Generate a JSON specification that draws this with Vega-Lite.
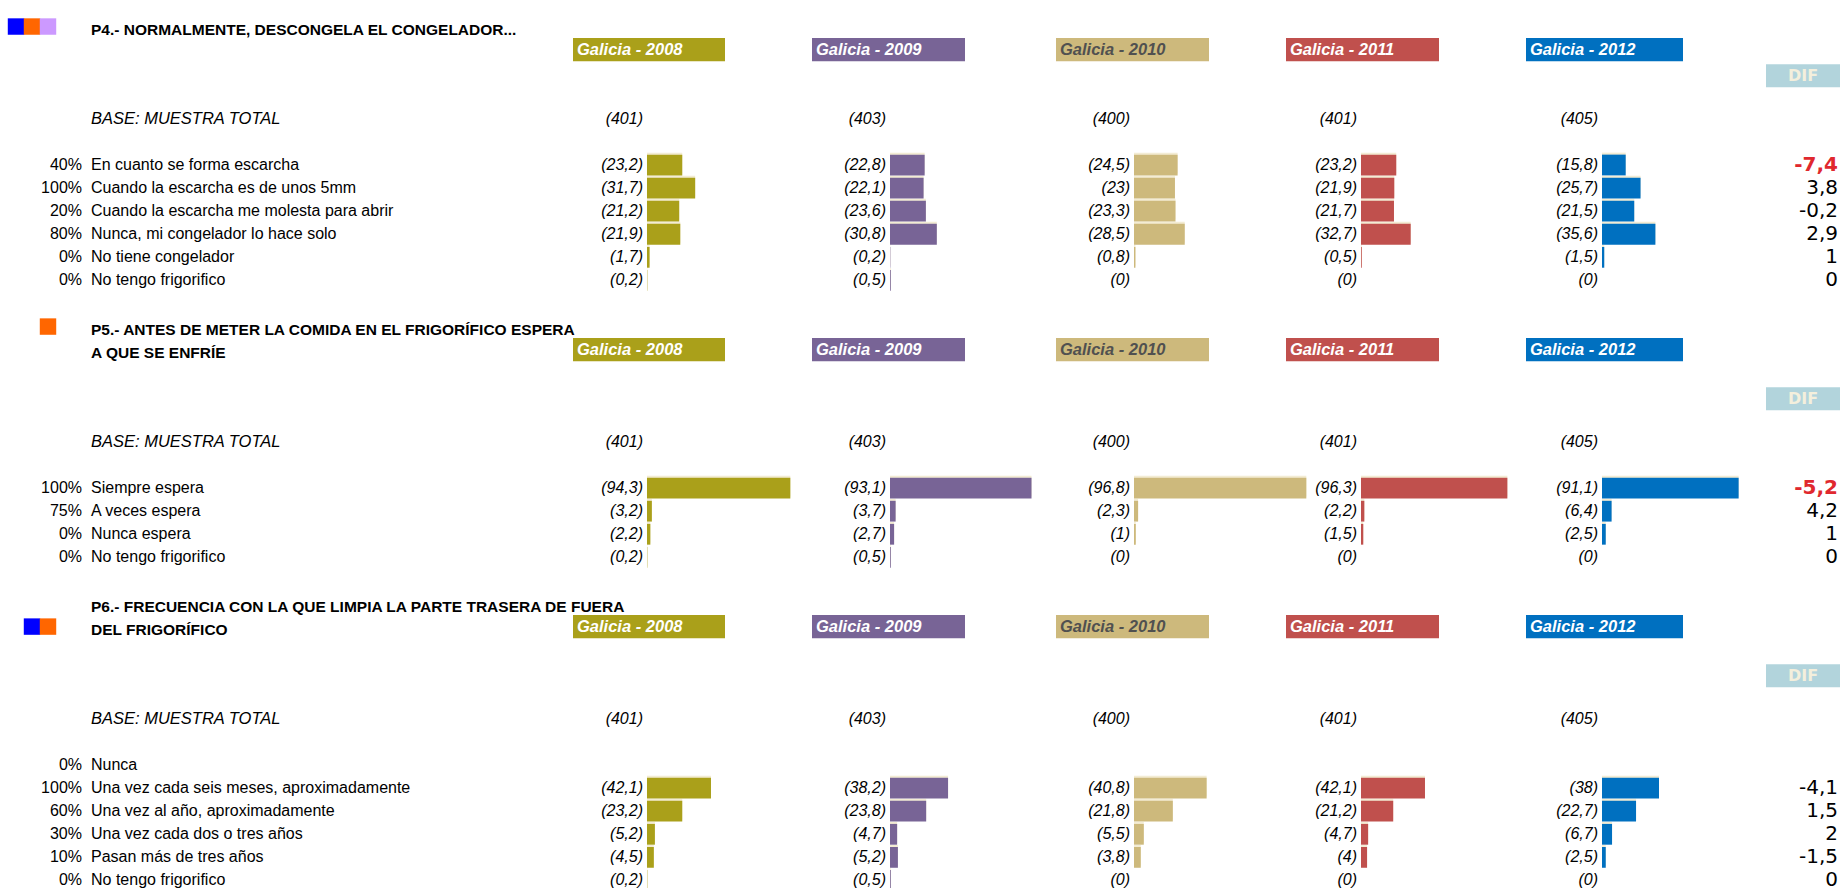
{
  "$schema": "https://vega.github.io/schema/vega-lite/v6.json",
  "padding": {"left": 0, "top": 15, "right": 0, "bottom": 0},
  "background": "white",
  "bounds": "flush",
  "spacing": 9,
  "config": {"view": {"stroke": null}, "font": "Liberation Sans", "text": {"color": "#000000"}},
  "datasets": {
    "sections": [
      {"sec": "P4", "h": "P4_h", "d": "P4_d"},
      {"sec": "P5", "h": "P5_h", "d": "P5_d"},
      {"sec": "P6", "h": "P6_h", "d": "P6_d"}
    ],
    "titles": [
      {"line": "P4_t", "text": "P4.- NORMALMENTE, DESCONGELA EL CONGELADOR..."},
      {"line": "P5_t", "text": "P5.- ANTES DE METER LA COMIDA EN EL FRIGORÍFICO ESPERA"},
      {"line": "P5_h", "text": "A QUE SE ENFRÍE"},
      {"line": "P6_t", "text": "P6.- FRECUENCIA CON LA QUE LIMPIA LA PARTE TRASERA DE FUERA"},
      {"line": "P6_h", "text": "DEL FRIGORÍFICO"}
    ],
    "icons": [
      {"line": "P4_t", "slot": "1", "c": "azul"},
      {"line": "P4_t", "slot": "2", "c": "naranja"},
      {"line": "P4_t", "slot": "3", "c": "lila"},
      {"line": "P5_t", "slot": "3", "c": "naranja"},
      {"line": "P6_h", "slot": "2", "c": "azul"},
      {"line": "P6_h", "slot": "3", "c": "naranja"}
    ],
    "bases": [
      {"line": "P4_b", "label": "BASE: MUESTRA TOTAL", "2008": 401, "2009": 403, "2010": 400, "2011": 401, "2012": 405},
      {"line": "P5_b", "label": "BASE: MUESTRA TOTAL", "2008": 401, "2009": 403, "2010": 400, "2011": 401, "2012": 405},
      {"line": "P6_b", "label": "BASE: MUESTRA TOTAL", "2008": 401, "2009": 403, "2010": 400, "2011": 401, "2012": 405}
    ],
    "items": [
      {"line": "P4_1", "pct": "40%", "label": "En cuanto se forma escarcha", "2008": 23.2, "2009": 22.8, "2010": 24.5, "2011": 23.2, "2012": 15.8, "dif": -7.4},
      {"line": "P4_2", "pct": "100%", "label": "Cuando la escarcha es de unos 5mm", "2008": 31.7, "2009": 22.1, "2010": 23, "2011": 21.9, "2012": 25.7, "dif": 3.8},
      {"line": "P4_3", "pct": "20%", "label": "Cuando la escarcha me molesta para abrir", "2008": 21.2, "2009": 23.6, "2010": 23.3, "2011": 21.7, "2012": 21.5, "dif": -0.2},
      {"line": "P4_4", "pct": "80%", "label": "Nunca, mi congelador lo hace solo", "2008": 21.9, "2009": 30.8, "2010": 28.5, "2011": 32.7, "2012": 35.6, "dif": 2.9},
      {"line": "P4_5", "pct": "0%", "label": "No tiene congelador", "2008": 1.7, "2009": 0.2, "2010": 0.8, "2011": 0.5, "2012": 1.5, "dif": 1},
      {"line": "P4_6", "pct": "0%", "label": "No tengo frigorifico", "2008": 0.2, "2009": 0.5, "2010": 0, "2011": 0, "2012": 0, "dif": 0},
      {"line": "P5_1", "pct": "100%", "label": "Siempre espera", "2008": 94.3, "2009": 93.1, "2010": 96.8, "2011": 96.3, "2012": 91.1, "dif": -5.2},
      {"line": "P5_2", "pct": "75%", "label": "A veces espera", "2008": 3.2, "2009": 3.7, "2010": 2.3, "2011": 2.2, "2012": 6.4, "dif": 4.2},
      {"line": "P5_3", "pct": "0%", "label": "Nunca espera", "2008": 2.2, "2009": 2.7, "2010": 1, "2011": 1.5, "2012": 2.5, "dif": 1},
      {"line": "P5_4", "pct": "0%", "label": "No tengo frigorifico", "2008": 0.2, "2009": 0.5, "2010": 0, "2011": 0, "2012": 0, "dif": 0},
      {"line": "P6_0", "pct": "0%", "label": "Nunca", "2008": null, "2009": null, "2010": null, "2011": null, "2012": null, "dif": null},
      {"line": "P6_1", "pct": "100%", "label": "Una vez cada seis meses, aproximadamente", "2008": 42.1, "2009": 38.2, "2010": 40.8, "2011": 42.1, "2012": 38, "dif": -4.1},
      {"line": "P6_2", "pct": "60%", "label": "Una vez al año, aproximadamente", "2008": 23.2, "2009": 23.8, "2010": 21.8, "2011": 21.2, "2012": 22.7, "dif": 1.5},
      {"line": "P6_3", "pct": "30%", "label": "Una vez cada dos o tres años", "2008": 5.2, "2009": 4.7, "2010": 5.5, "2011": 4.7, "2012": 6.7, "dif": 2},
      {"line": "P6_4", "pct": "10%", "label": "Pasan más de tres años", "2008": 4.5, "2009": 5.2, "2010": 3.8, "2011": 4, "2012": 2.5, "dif": -1.5},
      {"line": "P6_5", "pct": "0%", "label": "No tengo frigorifico", "2008": 0.2, "2009": 0.5, "2010": 0, "2011": 0, "2012": 0, "dif": 0}
    ]
  },
  "hconcat": [
    {
      "width": 64, "height": 877,
      "data": {"name": "icons"},
      "mark": {"type": "square", "size": 270, "opacity": 1},
      "encoding": {
        "x": {"field": "slot", "type": "nominal", "scale": {"type": "band", "domain": ["1", "2", "3"], "paddingInner": 0, "paddingOuter": 0.5}, "axis": null},
        "y": {"field": "line", "type": "nominal", "axis": null, "scale": {"type": "band", "paddingInner": 0, "paddingOuter": 0, "domain": ["P4_t","P4_h","P4_d","P4_x1","P4_b","P4_x2","P4_1","P4_2","P4_3","P4_4","P4_5","P4_6","P5_x0","P5_t","P5_h","P5_x1","P5_d","P5_x2","P5_b","P5_x3","P5_1","P5_2","P5_3","P5_4","P6_x0","P6_t","P6_h","P6_x1","P6_d","P6_x2","P6_b","P6_x3","P6_0","P6_1","P6_2","P6_3","P6_4","P6_5"]}},
        "color": {"field": "c", "type": "nominal", "scale": {"domain": ["azul", "naranja", "lila"], "range": ["#0000ff", "#ff6600", "#cc99ff"]}, "legend": null}
      }
    },
    {
      "width": 9, "height": 877,
      "data": {"name": "items"},
      "mark": {"type": "text", "align": "right", "fontSize": 16},
      "encoding": {
        "x": {"value": "width"},
        "y": {"field": "line", "type": "nominal", "axis": null, "scale": {"type": "band", "paddingInner": 0, "paddingOuter": 0, "domain": ["P4_t","P4_h","P4_d","P4_x1","P4_b","P4_x2","P4_1","P4_2","P4_3","P4_4","P4_5","P4_6","P5_x0","P5_t","P5_h","P5_x1","P5_d","P5_x2","P5_b","P5_x3","P5_1","P5_2","P5_3","P5_4","P6_x0","P6_t","P6_h","P6_x1","P6_d","P6_x2","P6_b","P6_x3","P6_0","P6_1","P6_2","P6_3","P6_4","P6_5"]}},
        "text": {"field": "pct"}
      }
    },
    {
      "width": 473, "height": 877,
      "encoding": {
        "x": {"value": 0},
        "y": {"field": "line", "type": "nominal", "axis": null, "scale": {"type": "band", "paddingInner": 0, "paddingOuter": 0, "domain": ["P4_t","P4_h","P4_d","P4_x1","P4_b","P4_x2","P4_1","P4_2","P4_3","P4_4","P4_5","P4_6","P5_x0","P5_t","P5_h","P5_x1","P5_d","P5_x2","P5_b","P5_x3","P5_1","P5_2","P5_3","P5_4","P6_x0","P6_t","P6_h","P6_x1","P6_d","P6_x2","P6_b","P6_x3","P6_0","P6_1","P6_2","P6_3","P6_4","P6_5"]}}
      },
      "layer": [
        {"data": {"name": "titles"}, "mark": {"type": "text", "align": "left", "fontSize": 15.5, "fontWeight": "bold", "dy": 3}, "encoding": {"text": {"field": "text"}}},
        {"data": {"name": "items"}, "mark": {"type": "text", "align": "left", "fontSize": 16}, "encoding": {"text": {"field": "label"}}},
        {"data": {"name": "bases"}, "mark": {"type": "text", "align": "left", "fontSize": 16.5, "fontStyle": "italic"}, "encoding": {"text": {"field": "label"}}}
      ]
    },
    {
      "width": 152, "height": 877,
      "encoding": {
        "y": {"field": "line", "type": "nominal", "axis": null, "scale": {"type": "band", "paddingInner": 0, "paddingOuter": 0, "domain": ["P4_t","P4_h","P4_d","P4_x1","P4_b","P4_x2","P4_1","P4_2","P4_3","P4_4","P4_5","P4_6","P5_x0","P5_t","P5_h","P5_x1","P5_d","P5_x2","P5_b","P5_x3","P5_1","P5_2","P5_3","P5_4","P6_x0","P6_t","P6_h","P6_x1","P6_d","P6_x2","P6_b","P6_x3","P6_0","P6_1","P6_2","P6_3","P6_4","P6_5"]}}
      },
      "layer": [
        {"data": {"name": "sections"}, "transform": [{"calculate": "datum.h", "as": "line"}], "mark": {"type": "rect", "color": "#aaa01a"}, "encoding": {"x": {"value": 0}, "x2": {"value": "width"}}},
        {"data": {"name": "sections"}, "transform": [{"calculate": "datum.h", "as": "line"}], "mark": {"type": "text", "text": "Galicia - 2008", "align": "left", "dx": 4, "fontSize": 16.5, "fontWeight": "bold", "fontStyle": "italic", "color": "#ffffff"}, "encoding": {"x": {"value": 0}}},
        {"data": {"name": "items"}, "transform": [{"filter": "isValid(datum['2008'])"}], "mark": {"type": "bar", "color": "#f3ecd4", "height": {"band": 0.9}, "yOffset": -2}, "encoding": {"x": {"field": "2008", "type": "quantitative", "scale": {"domain": [-48.68, 51.32], "nice": false, "zero": false}, "axis": null}}},
        {"data": {"name": "items"}, "transform": [{"filter": "isValid(datum['2008'])"}], "mark": {"type": "bar", "color": "#aaa01a", "height": {"band": 0.9}}, "encoding": {"x": {"field": "2008", "type": "quantitative"}}},
        {"data": {"name": "items"}, "transform": [{"filter": "isValid(datum['2008'])"}, {"calculate": "'(' + replace(format(datum['2008'], '.1~f'), '.', ',') + ')'", "as": "lab"}], "mark": {"type": "text", "align": "right", "dx": -4, "fontSize": 16, "fontStyle": "italic"}, "encoding": {"x": {"datum": 0, "type": "quantitative"}, "text": {"field": "lab"}}},
        {"data": {"name": "bases"}, "transform": [{"calculate": "'(' + datum['2008'] + ')'", "as": "lab"}], "mark": {"type": "text", "align": "right", "dx": -4, "fontSize": 16, "fontStyle": "italic"}, "encoding": {"x": {"datum": 0, "type": "quantitative"}, "text": {"field": "lab"}}}
      ]
    },
    {"width": 69, "height": 877, "data": {"values": []}, "mark": {"type": "text", "text": ""}, "encoding": {}},
    {
      "width": 153, "height": 877,
      "encoding": {
        "y": {"field": "line", "type": "nominal", "axis": null, "scale": {"type": "band", "paddingInner": 0, "paddingOuter": 0, "domain": ["P4_t","P4_h","P4_d","P4_x1","P4_b","P4_x2","P4_1","P4_2","P4_3","P4_4","P4_5","P4_6","P5_x0","P5_t","P5_h","P5_x1","P5_d","P5_x2","P5_b","P5_x3","P5_1","P5_2","P5_3","P5_4","P6_x0","P6_t","P6_h","P6_x1","P6_d","P6_x2","P6_b","P6_x3","P6_0","P6_1","P6_2","P6_3","P6_4","P6_5"]}}
      },
      "layer": [
        {"data": {"name": "sections"}, "transform": [{"calculate": "datum.h", "as": "line"}], "mark": {"type": "rect", "color": "#786496"}, "encoding": {"x": {"value": 0}, "x2": {"value": "width"}}},
        {"data": {"name": "sections"}, "transform": [{"calculate": "datum.h", "as": "line"}], "mark": {"type": "text", "text": "Galicia - 2009", "align": "left", "dx": 4, "fontSize": 16.5, "fontWeight": "bold", "fontStyle": "italic", "color": "#ffffff"}, "encoding": {"x": {"value": 0}}},
        {"data": {"name": "items"}, "transform": [{"filter": "isValid(datum['2009'])"}], "mark": {"type": "bar", "color": "#f3ecd4", "height": {"band": 0.9}, "yOffset": -2}, "encoding": {"x": {"field": "2009", "type": "quantitative", "scale": {"domain": [-51.32, 49.34], "nice": false, "zero": false}, "axis": null}}},
        {"data": {"name": "items"}, "transform": [{"filter": "isValid(datum['2009'])"}], "mark": {"type": "bar", "color": "#786496", "height": {"band": 0.9}}, "encoding": {"x": {"field": "2009", "type": "quantitative"}}},
        {"data": {"name": "items"}, "transform": [{"filter": "isValid(datum['2009'])"}, {"calculate": "'(' + replace(format(datum['2009'], '.1~f'), '.', ',') + ')'", "as": "lab"}], "mark": {"type": "text", "align": "right", "dx": -4, "fontSize": 16, "fontStyle": "italic"}, "encoding": {"x": {"datum": 0, "type": "quantitative"}, "text": {"field": "lab"}}},
        {"data": {"name": "bases"}, "transform": [{"calculate": "'(' + datum['2009'] + ')'", "as": "lab"}], "mark": {"type": "text", "align": "right", "dx": -4, "fontSize": 16, "fontStyle": "italic"}, "encoding": {"x": {"datum": 0, "type": "quantitative"}, "text": {"field": "lab"}}}
      ]
    },
    {"width": 73, "height": 877, "data": {"values": []}, "mark": {"type": "text", "text": ""}, "encoding": {}},
    {
      "width": 153, "height": 877,
      "encoding": {
        "y": {"field": "line", "type": "nominal", "axis": null, "scale": {"type": "band", "paddingInner": 0, "paddingOuter": 0, "domain": ["P4_t","P4_h","P4_d","P4_x1","P4_b","P4_x2","P4_1","P4_2","P4_3","P4_4","P4_5","P4_6","P5_x0","P5_t","P5_h","P5_x1","P5_d","P5_x2","P5_b","P5_x3","P5_1","P5_2","P5_3","P5_4","P6_x0","P6_t","P6_h","P6_x1","P6_d","P6_x2","P6_b","P6_x3","P6_0","P6_1","P6_2","P6_3","P6_4","P6_5"]}}
      },
      "layer": [
        {"data": {"name": "sections"}, "transform": [{"calculate": "datum.h", "as": "line"}], "mark": {"type": "rect", "color": "#cdb97c"}, "encoding": {"x": {"value": 0}, "x2": {"value": "width"}}},
        {"data": {"name": "sections"}, "transform": [{"calculate": "datum.h", "as": "line"}], "mark": {"type": "text", "text": "Galicia - 2010", "align": "left", "dx": 4, "fontSize": 16.5, "fontWeight": "bold", "fontStyle": "italic", "color": "#505050"}, "encoding": {"x": {"value": 0}}},
        {"data": {"name": "items"}, "transform": [{"filter": "isValid(datum['2010'])"}], "mark": {"type": "bar", "color": "#f3ecd4", "height": {"band": 0.9}, "yOffset": -2}, "encoding": {"x": {"field": "2010", "type": "quantitative", "scale": {"domain": [-43.82, 42.13], "nice": false, "zero": false}, "axis": null}}},
        {"data": {"name": "items"}, "transform": [{"filter": "isValid(datum['2010'])"}], "mark": {"type": "bar", "color": "#cdb97c", "height": {"band": 0.9}}, "encoding": {"x": {"field": "2010", "type": "quantitative"}}},
        {"data": {"name": "items"}, "transform": [{"filter": "isValid(datum['2010'])"}, {"calculate": "'(' + replace(format(datum['2010'], '.1~f'), '.', ',') + ')'", "as": "lab"}], "mark": {"type": "text", "align": "right", "dx": -4, "fontSize": 16, "fontStyle": "italic"}, "encoding": {"x": {"datum": 0, "type": "quantitative"}, "text": {"field": "lab"}}},
        {"data": {"name": "bases"}, "transform": [{"calculate": "'(' + datum['2010'] + ')'", "as": "lab"}], "mark": {"type": "text", "align": "right", "dx": -4, "fontSize": 16, "fontStyle": "italic"}, "encoding": {"x": {"datum": 0, "type": "quantitative"}, "text": {"field": "lab"}}}
      ]
    },
    {"width": 59, "height": 877, "data": {"values": []}, "mark": {"type": "text", "text": ""}, "encoding": {}},
    {
      "width": 153, "height": 877,
      "encoding": {
        "y": {"field": "line", "type": "nominal", "axis": null, "scale": {"type": "band", "paddingInner": 0, "paddingOuter": 0, "domain": ["P4_t","P4_h","P4_d","P4_x1","P4_b","P4_x2","P4_1","P4_2","P4_3","P4_4","P4_5","P4_6","P5_x0","P5_t","P5_h","P5_x1","P5_d","P5_x2","P5_b","P5_x3","P5_1","P5_2","P5_3","P5_4","P6_x0","P6_t","P6_h","P6_x1","P6_d","P6_x2","P6_b","P6_x3","P6_0","P6_1","P6_2","P6_3","P6_4","P6_5"]}}
      },
      "layer": [
        {"data": {"name": "sections"}, "transform": [{"calculate": "datum.h", "as": "line"}], "mark": {"type": "rect", "color": "#c0504d"}, "encoding": {"x": {"value": 0}, "x2": {"value": "width"}}},
        {"data": {"name": "sections"}, "transform": [{"calculate": "datum.h", "as": "line"}], "mark": {"type": "text", "text": "Galicia - 2011", "align": "left", "dx": 4, "fontSize": 16.5, "fontWeight": "bold", "fontStyle": "italic", "color": "#ffffff"}, "encoding": {"x": {"value": 0}}},
        {"data": {"name": "items"}, "transform": [{"filter": "isValid(datum['2011'])"}], "mark": {"type": "bar", "color": "#f3ecd4", "height": {"band": 0.9}, "yOffset": -2}, "encoding": {"x": {"field": "2011", "type": "quantitative", "scale": {"domain": [-49.34, 51.32], "nice": false, "zero": false}, "axis": null}}},
        {"data": {"name": "items"}, "transform": [{"filter": "isValid(datum['2011'])"}], "mark": {"type": "bar", "color": "#c0504d", "height": {"band": 0.9}}, "encoding": {"x": {"field": "2011", "type": "quantitative"}}},
        {"data": {"name": "items"}, "transform": [{"filter": "isValid(datum['2011'])"}, {"calculate": "'(' + replace(format(datum['2011'], '.1~f'), '.', ',') + ')'", "as": "lab"}], "mark": {"type": "text", "align": "right", "dx": -4, "fontSize": 16, "fontStyle": "italic"}, "encoding": {"x": {"datum": 0, "type": "quantitative"}, "text": {"field": "lab"}}},
        {"data": {"name": "bases"}, "transform": [{"calculate": "'(' + datum['2011'] + ')'", "as": "lab"}], "mark": {"type": "text", "align": "right", "dx": -4, "fontSize": 16, "fontStyle": "italic"}, "encoding": {"x": {"datum": 0, "type": "quantitative"}, "text": {"field": "lab"}}}
      ]
    },
    {"width": 69, "height": 877, "data": {"values": []}, "mark": {"type": "text", "text": ""}, "encoding": {}},
    {
      "width": 157, "height": 877,
      "encoding": {
        "y": {"field": "line", "type": "nominal", "axis": null, "scale": {"type": "band", "paddingInner": 0, "paddingOuter": 0, "domain": ["P4_t","P4_h","P4_d","P4_x1","P4_b","P4_x2","P4_1","P4_2","P4_3","P4_4","P4_5","P4_6","P5_x0","P5_t","P5_h","P5_x1","P5_d","P5_x2","P5_b","P5_x3","P5_1","P5_2","P5_3","P5_4","P6_x0","P6_t","P6_h","P6_x1","P6_d","P6_x2","P6_b","P6_x3","P6_0","P6_1","P6_2","P6_3","P6_4","P6_5"]}}
      },
      "layer": [
        {"data": {"name": "sections"}, "transform": [{"calculate": "datum.h", "as": "line"}], "mark": {"type": "rect", "color": "#0070c0"}, "encoding": {"x": {"value": 0}, "x2": {"value": "width"}}},
        {"data": {"name": "sections"}, "transform": [{"calculate": "datum.h", "as": "line"}], "mark": {"type": "text", "text": "Galicia - 2012", "align": "left", "dx": 4, "fontSize": 16.5, "fontWeight": "bold", "fontStyle": "italic", "color": "#ffffff"}, "encoding": {"x": {"value": 0}}},
        {"data": {"name": "items"}, "transform": [{"filter": "isValid(datum['2012'])"}], "mark": {"type": "bar", "color": "#f3ecd4", "height": {"band": 0.9}, "yOffset": -2}, "encoding": {"x": {"field": "2012", "type": "quantitative", "scale": {"domain": [-50.67, 54.0], "nice": false, "zero": false}, "axis": null}}},
        {"data": {"name": "items"}, "transform": [{"filter": "isValid(datum['2012'])"}], "mark": {"type": "bar", "color": "#0070c0", "height": {"band": 0.9}}, "encoding": {"x": {"field": "2012", "type": "quantitative"}}},
        {"data": {"name": "items"}, "transform": [{"filter": "isValid(datum['2012'])"}, {"calculate": "'(' + replace(format(datum['2012'], '.1~f'), '.', ',') + ')'", "as": "lab"}], "mark": {"type": "text", "align": "right", "dx": -4, "fontSize": 16, "fontStyle": "italic"}, "encoding": {"x": {"datum": 0, "type": "quantitative"}, "text": {"field": "lab"}}},
        {"data": {"name": "bases"}, "transform": [{"calculate": "'(' + datum['2012'] + ')'", "as": "lab"}], "mark": {"type": "text", "align": "right", "dx": -4, "fontSize": 16, "fontStyle": "italic"}, "encoding": {"x": {"datum": 0, "type": "quantitative"}, "text": {"field": "lab"}}}
      ]
    },
    {"width": 65, "height": 877, "data": {"values": []}, "mark": {"type": "text", "text": ""}, "encoding": {}},
    {
      "width": 74, "height": 877,
      "encoding": {
        "y": {"field": "line", "type": "nominal", "axis": null, "scale": {"type": "band", "paddingInner": 0, "paddingOuter": 0, "domain": ["P4_t","P4_h","P4_d","P4_x1","P4_b","P4_x2","P4_1","P4_2","P4_3","P4_4","P4_5","P4_6","P5_x0","P5_t","P5_h","P5_x1","P5_d","P5_x2","P5_b","P5_x3","P5_1","P5_2","P5_3","P5_4","P6_x0","P6_t","P6_h","P6_x1","P6_d","P6_x2","P6_b","P6_x3","P6_0","P6_1","P6_2","P6_3","P6_4","P6_5"]}}
      },
      "layer": [
        {"data": {"name": "sections"}, "transform": [{"calculate": "datum.d", "as": "line"}], "mark": {"type": "rect", "color": "#b2d4dc", "yOffset": 3}, "encoding": {"x": {"value": 0}, "x2": {"value": "width"}}},
        {"data": {"name": "sections"}, "transform": [{"calculate": "datum.d", "as": "line"}], "mark": {"type": "text", "text": "DIF", "font": "DejaVu Sans", "fontWeight": "bold", "fontSize": 16, "color": "#f4efdc", "dy": 3}, "encoding": {}},
        {"data": {"name": "items"}, "transform": [{"filter": "isValid(datum.dif) && abs(datum.dif) < 5"}, {"calculate": "replace(replace(format(datum.dif, '.1~f'), '.', ','), '\u2212', '-')", "as": "dl"}], "mark": {"type": "text", "align": "right", "dx": -2, "font": "DejaVu Sans", "fontSize": 20}, "encoding": {"x": {"value": "width"}, "text": {"field": "dl"}}},
        {"data": {"name": "items"}, "transform": [{"filter": "isValid(datum.dif) && abs(datum.dif) >= 5"}, {"calculate": "replace(replace(format(datum.dif, '.1~f'), '.', ','), '\u2212', '-')", "as": "dl"}], "mark": {"type": "text", "align": "right", "dx": -2, "font": "DejaVu Sans", "fontSize": 20, "fontWeight": "bold", "color": "#e0282e"}, "encoding": {"x": {"value": "width"}, "text": {"field": "dl"}}}
      ]
    }
  ]
}
